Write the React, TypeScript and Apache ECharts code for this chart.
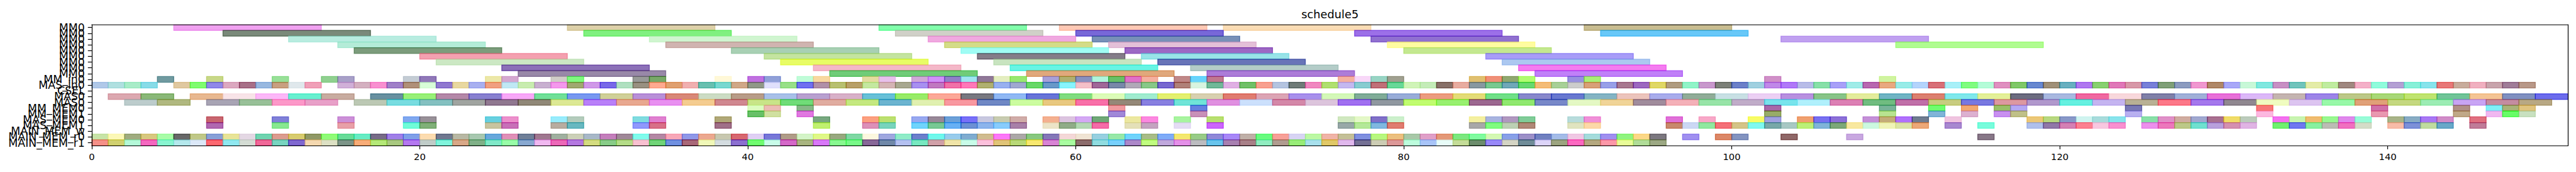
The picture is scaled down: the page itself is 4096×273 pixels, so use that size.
import React, { useEffect, useRef } from "react";
import * as echarts from "echarts";

// ---------- data ----------
const title = "schedule5";
const rowLabels = [
  "MM0", "MM0", "MM0", "MM0", "MM0", "MM0", "MM0", "MM0", "MM0",
  "MM_in0", "MAS_in0", "CSEL", "MAS0", "MAS0", "MM_MEM0", "MM_MEM1",
  "MAS_MEM0", "MAS_MEM1", "MAIN_MEM_w", "MAIN_MEM_r0", "MAIN_MEM_r1",
];
const xMin = 0;
const xMax = 151;
const xTickStep = 20;

// each entry: [start, end, colour as seen]
const mm0_r0 = [[5,14,"#f0a0f0"],[29,38,"#ddd0a8"],[48,57,"#80ffaa"],[59,68,"#ffc8b4"],[69,78,"#fadcb4"],[91,100,"#c8bc90"]];
const mm0_r1 = [[8,17,"#7a8a7a"],[30,39,"#80f080"],[49,58,"#d0d0c8"],[60,69,"#7868d8"],[77,86,"#9c70e8"],[92,101,"#68c8f8"]];
const mm0_r2 = [[12,21,"#b8ece0"],[34,43,"#d0f5d0"],[51,60,"#f0a8e0"],[61,70,"#7890b8"],[78,87,"#9070d0"],[103,112,"#c0a0f0"]];
const mm0_r3 = [[15,24,"#b4ecd8"],[35,44,"#d0b4b0"],[52,61,"#d4dc88"],[62,71,"#e4c0d8"],[79,88,"#fffca0"],[110,119,"#b0fc90"]];
const mm0_r4 = [[16,25,"#7c9c7c"],[39,48,"#a8d0b4"],[53,62,"#a0fcf4"],[63,72,"#9c68c4"],[80,89,"#c4e890"]];
const mm0_r5 = [[20,29,"#f4a0b0"],[41,50,"#c4e4a0"],[54,63,"#847c88"],[64,73,"#98e4e8"],[85,94,"#a89cf8"]];
const mm0_r6 = [[21,30,"#cce8c4"],[42,51,"#e8fc60"],[55,64,"#c8e4c0"],[65,74,"#6874b8"],[86,95,"#acc8f0"]];
const mm0_r7 = [[25,34,"#8c70b8"],[44,53,"#f4b8c8"],[56,65,"#68f4e4"],[67,76,"#b4ccc8"],[87,96,"#f47cf0"]];
const mm0_r8 = [[26,35,"#9888a8"],[45,54,"#70cc78"],[57,66,"#e0a87c"],[68,77,"#ac7cd8"],[88,97,"#c080f8"]];

// unit-length rows: [start, colour]
const mmIn0 = [[4,"#709aa0"],[7,"#c8d888"],[11,"#98e098"],[14,"#90d090"],[15,"#a8a0c8"],[19,"#c4ccd4"],[20,"#9078b8"],[24,"#ece8a8"],[25,"#d4a8d0"],[28,"#d0ccc8"],[29,"#80f880"],[33,"#989a98"],[34,"#78a868"],[38,"#fff8d8"],[40,"#c070e0"],[41,"#90a0d8"],[43,"#c0fcd8"],[44,"#f8d8a0"],[47,"#e4dca0"],[48,"#e8c0ec"],[50,"#d0a8d8"],[51,"#d090f8"],[52,"#9080c8"],[53,"#a0e4f0"],[54,"#907898"],[55,"#e4eec0"],[56,"#98e870"],[58,"#a8a0d8"],[59,"#b0b070"],[60,"#8890c0"],[61,"#b0f4dc"],[62,"#68c068"],[63,"#e070c8"],[64,"#f4b0a0"],[66,"#c08888"],[67,"#68d4fc"],[68,"#c07890"],[76,"#f4b0a0"],[77,"#f8d8f8"],[78,"#98d4c4"],[79,"#a0a090"],[84,"#e0c070"],[85,"#f09078"],[86,"#90a870"],[87,"#b0fc70"],[90,"#9890e0"],[91,"#a8f078"],[102,"#d090c8"],[109,"#d0f4a0"]];

const masIn0 = [[0,"#b0c8e8"],[1,"#b0e0e0"],[2,"#a8ecc8"],[3,"#88dce8"],[5,"#e0c8a0"],[6,"#80fc70"],[7,"#9088e8"],[8,"#dca8c0"],[9,"#a87088"],[10,"#98b8e0"],[11,"#c8a080"],[12,"#e0e8ec"],[13,"#f0a0b8"],[15,"#d0b0d8"],[16,"#d4b0c0"],[17,"#f890d0"],[18,"#a080c8"],[19,"#b09078"],[20,"#d8fcd8"],[21,"#9078d0"],[22,"#e8d8a0"],[23,"#a8b0f0"],[24,"#f0a080"],[25,"#c0e8f4"],[26,"#c8ecb0"],[27,"#c8b0d0"],[28,"#f498ec"],[29,"#a0a870"],[30,"#d098e8"],[31,"#7868e8"],[32,"#b0e0c0"],[33,"#989080"],[34,"#ffaa90"],[35,"#e0a070"],[36,"#f0b0b0"],[37,"#68c0b0"],[38,"#78d8d0"],[39,"#d0a888"],[40,"#909888"],[41,"#e0e0fc"],[42,"#98e088"],[43,"#7070f0"],[44,"#b090a8"],[45,"#b8c070"],[46,"#b8a068"],[47,"#c4e8a0"],[48,"#d4b4b4"],[49,"#a8a890"],[50,"#a890f0"],[51,"#c078c0"],[52,"#f070a8"],[53,"#ff78b8"],[54,"#b0b070"],[55,"#98b0f0"],[56,"#a0a8d0"],[57,"#68d868"],[58,"#6898c8"],[59,"#88f4fc"],[60,"#f4c0c8"],[61,"#a06898"],[62,"#7888a8"],[63,"#b0a8b8"],[64,"#88c888"],[65,"#7868d0"],[66,"#b08078"],[67,"#d8f4e0"],[68,"#70b898"],[69,"#e0b0e4"],[70,"#70c068"],[71,"#f8a090"],[72,"#b4c4e0"],[73,"#707c78"],[74,"#f088c0"],[75,"#b0e070"],[76,"#c4b8f0"],[77,"#88ccd0"],[78,"#c07078"],[79,"#68d898"],[80,"#d0f4b8"],[81,"#c4ecb8"],[82,"#887068"],[83,"#e8aca0"],[84,"#8898a0"],[85,"#78c890"],[86,"#70a8b8"],[87,"#68d870"],[88,"#f4bc78"],[89,"#a8d098"],[90,"#cccccc"],[91,"#d8a078"],[92,"#98a0e8"],[93,"#a87890"],[94,"#9c68c0"],[95,"#e0d860"],[96,"#b09c80"],[97,"#90f4c8"],[98,"#c898cc"],[99,"#7c8078"],[100,"#6c80c8"],[101,"#a0d0e0"],[102,"#c088e8"],[103,"#b078f8"],[104,"#b8bce8"],[105,"#88e0a8"],[106,"#a8a0f8"],[107,"#a0ece8"],[108,"#b868b0"],[109,"#e8a880"],[110,"#98ece8"],[111,"#b4d4fc"],[112,"#d87078"],[113,"#a8f0f8"],[114,"#80fc80"],[115,"#b4fcd8"],[116,"#e090c0"],[117,"#80c868"],[118,"#6888d0"],[119,"#a09078"],[120,"#68b0c0"],[121,"#b078f0"],[122,"#88d070"],[123,"#e078b8"],[124,"#d898a8"],[125,"#7880d8"],[126,"#80a078"],[127,"#8c9cc0"],[128,"#f098d0"],[129,"#b08868"],[130,"#a8a8f8"],[131,"#c8f8d8"],[132,"#80e8e0"],[133,"#c890c4"],[134,"#70c4bc"],[135,"#e4eca8"],[136,"#c0eca0"],[137,"#a08880"],[138,"#f4b0c8"],[139,"#90fcdc"],[140,"#b4a0d4"],[141,"#88f0d8"],[142,"#88e4ec"],[143,"#e87878"],[144,"#c8ac9c"],[145,"#f0b0c0"],[146,"#c8a4ac"],[147,"#a07c98"],[148,"#b89888"]];

// two-unit rows: [start, colour]
const mas0a = [[1,"#dca8b0"],[3,"#8ab878"],[6,"#e8b890"],[8,"#f8e4e8"],[10,"#fcb8f8"],[12,"#68f0d0"],[14,"#c8aca0"],[17,"#6890a0"],[19,"#98f078"],[21,"#b488a8"],[23,"#8880d0"],[25,"#f8a8f8"],[27,"#70e098"],[29,"#7898f0"],[31,"#d0d098"],[33,"#b890d8"],[35,"#d88878"],[37,"#ccdcc4"],[39,"#b89c88"],[41,"#a8c0e8"],[43,"#b8a0d0"],[45,"#d8b0c8"],[47,"#68c0d8"],[49,"#98ec68"],[51,"#fca898"],[53,"#787880"],[55,"#90b8f4"],[57,"#6874d8"],[59,"#80dc80"],[61,"#dcfcb8"],[63,"#a0ecd0"],[65,"#e4f070"],[67,"#d8d0b0"],[69,"#e07c70"],[71,"#dca4b4"],[73,"#a890ec"],[75,"#d4f8b8"],[77,"#80ac98"],[79,"#98acd8"],[81,"#ec9c80"],[83,"#e4dc78"],[85,"#70e088"],[87,"#8888cc"],[89,"#6878d0"],[91,"#84b4c4"],[93,"#ecc4bc"],[95,"#a8acec"],[97,"#90ac98"],[99,"#c8e0e4"],[101,"#ecd0f4"],[103,"#b890e0"],[105,"#88c488"],[107,"#e4ec9c"],[109,"#70b4c4"],[111,"#dc8070"],[113,"#80e8ec"],[115,"#e4f098"],[117,"#6c6c80"],[119,"#a8b8e0"],[121,"#f068a0"],[123,"#f8d8dc"],[125,"#8080a8"],[127,"#a0b0d8"],[129,"#e870d8"],[131,"#dcb8f8"],[133,"#c4b4b0"],[135,"#9c84e8"],[137,"#bcc888"],[139,"#a8d878"],[141,"#c0e470"],[143,"#70c498"],[145,"#f4c494"],[147,"#8090c0"],[149,"#6c6cec"]];
const mas0b = [[2,"#bccccc"],[4,"#b0b880"],[7,"#a8a4b4"],[9,"#98c098"],[11,"#fc98c8"],[13,"#e8a0c8"],[16,"#bcc8b4"],[18,"#78dce0"],[20,"#84c0c0"],[22,"#a0a4a0"],[24,"#907890"],[26,"#908878"],[28,"#dce894"],[30,"#b880f8"],[32,"#e8a890"],[34,"#e890f0"],[36,"#f4cc90"],[38,"#d08890"],[40,"#c8e488"],[42,"#70dc78"],[44,"#e0aca0"],[46,"#c4e880"],[48,"#6cb4d0"],[50,"#e0f0b0"],[52,"#f898a0"],[54,"#7088c4"],[56,"#ccfca0"],[58,"#e8c880"],[60,"#f870a8"],[62,"#948878"],[64,"#8880e0"],[66,"#70e4d8"],[68,"#e090e0"],[70,"#cce0fc"],[72,"#d488a8"],[74,"#dcc4dc"],[76,"#a070f0"],[78,"#9098a0"],[80,"#c0fc70"],[82,"#98f070"],[84,"#9c6890"],[86,"#90e870"],[88,"#7888c8"],[90,"#e4f8c4"],[92,"#f0d498"],[94,"#a08c9c"],[96,"#f4b0b8"],[98,"#98e4a8"],[100,"#c0acc8"],[102,"#78e4ec"],[104,"#b0f0fc"],[106,"#dc80b4"],[108,"#70bc80"],[110,"#c070a8"],[112,"#c8cc80"],[114,"#7878e0"],[116,"#dc98a0"],[118,"#b098cc"],[120,"#58f0e0"],[122,"#c4b4f0"],[124,"#b8b094"],[126,"#fc7888"],[128,"#a478ec"],[130,"#908890"],[132,"#f0fcc0"],[134,"#dcc4f0"],[136,"#98f8a8"],[138,"#e0a078"],[140,"#c4d880"],[142,"#9cecb4"],[144,"#c8a4f4"],[146,"#c48ca0"],[148,"#b8a884"]];

const mmMem0 = [[40,"#dcfcc0"],[41,"#ecbcb4"],[43,"#88b888"],[62,"#f09aa0"],[67,"#6080e0"],[102,"#a868a8"],[109,"#78b498"],[112,"#70fc70"],[114,"#f4a870"],[116,"#98c068"],[117,"#b4a8f4"],[124,"#7878b4"],[132,"#f87878"],[139,"#d070a8"],[144,"#b09088"],[146,"#80f0f8"],[147,"#a8b478"],[148,"#e0c480"]];
const mmMem1 = [[40,"#68c068"],[41,"#d0e0a0"],[43,"#e078e0"],[62,"#a088d8"],[67,"#c890b8"],[102,"#98ac68"],[109,"#b8e490"],[112,"#80b4d8"],[114,"#dcb0d0"],[116,"#c890f0"],[117,"#c0c088"],[124,"#b8b0f0"],[132,"#fcb8e0"],[139,"#e898b0"],[144,"#c0a888"],[146,"#f0b8f0"],[147,"#68fc68"],[148,"#c8e0c0"]];

const masMem0 = [[7,"#c86070"],[11,"#8080d8"],[15,"#cc90d8"],[19,"#80a8f0"],[20,"#989098"],[24,"#68d0e0"],[25,"#ec90cc"],[28,"#98ecfc"],[29,"#b4ccbc"],[33,"#80dce0"],[34,"#e080d0"],[38,"#b0a878"],[44,"#78a880"],[47,"#fca080"],[48,"#bce070"],[50,"#98a8f0"],[51,"#988898"],[52,"#6ca0d8"],[53,"#7870f8"],[54,"#c8c8e0"],[55,"#c8ccb0"],[56,"#d0aca8"],[58,"#f4b090"],[59,"#dcc4e0"],[60,"#d4a8f4"],[61,"#70a878"],[63,"#ece8a0"],[64,"#fc88e0"],[66,"#a8f4a0"],[68,"#b8e070"],[76,"#d0e8c0"],[77,"#e4f8c8"],[78,"#8070c8"],[79,"#ccf0cc"],[84,"#f4f0a0"],[85,"#a8b4e0"],[86,"#b098c0"],[87,"#80cc98"],[90,"#b8dcdc"],[91,"#f090d8"],[96,"#e070d8"],[98,"#f8a8c8"],[101,"#f8fc58"],[102,"#a0a0e0"],[104,"#f0a070"],[105,"#7870f0"],[106,"#8c70d8"],[108,"#c490d8"],[109,"#c4ac78"],[110,"#b070fc"],[111,"#707c90"],[113,"#f0c4e0"],[118,"#ecc878"],[119,"#b8d880"],[120,"#8898c8"],[121,"#d0f4f0"],[122,"#a8dcdc"],[123,"#88e4ec"],[125,"#88e0a8"],[126,"#e090c8"],[127,"#d0aca0"],[128,"#a0a8d0"],[129,"#a87090"],[130,"#f0dc68"],[131,"#bcccbc"],[133,"#f470f0"],[134,"#c8f4b0"],[135,"#f0bc70"],[136,"#98f890"],[137,"#e088ec"],[138,"#98fcd8"],[140,"#a8b488"],[141,"#88acc4"],[142,"#a878f4"],[143,"#d08cc8"],[145,"#e07080"]];
const masMem1 = [[7,"#b068b0"],[11,"#88e890"],[15,"#e8a0a8"],[19,"#70fcd8"],[20,"#80b078"],[24,"#c8c4a0"],[25,"#c870b8"],[28,"#b8aca0"],[29,"#68b8c0"],[33,"#9098fc"],[34,"#d87088"],[38,"#a07088"],[44,"#c0f070"],[47,"#dc90b8"],[48,"#78d4bc"],[50,"#70d4fc"],[51,"#78c894"],[52,"#68b0f4"],[53,"#6c90d4"],[54,"#8cb4ec"],[55,"#88ccfc"],[56,"#a880a8"],[58,"#ece4c8"],[59,"#90ac88"],[60,"#b4d8b4"],[61,"#f46ca8"],[63,"#e4e0b8"],[64,"#c4a4c0"],[66,"#e4dcf4"],[68,"#cc60fc"],[76,"#98a8a8"],[77,"#b4e898"],[78,"#80b8e0"],[79,"#e07c70"],[84,"#a8a8a8"],[85,"#80fc80"],[86,"#bcd0b4"],[87,"#b08878"],[90,"#e0e4c0"],[91,"#fcd8a8"],[96,"#c8886c"],[97,"#ccd8f4"],[98,"#90e8a0"],[99,"#f47078"],[100,"#d4c488"],[101,"#80f8f0"],[102,"#78a8a8"],[103,"#a8c8c4"],[104,"#bcf078"],[105,"#80b4d8"],[106,"#7ca878"],[107,"#f8e8a0"],[108,"#ccf8e0"],[109,"#f0f4b8"],[110,"#dce4a8"],[111,"#eca878"],[113,"#a888d0"],[115,"#78fcdc"],[118,"#b0c0ec"],[119,"#9078a8"],[120,"#d480b4"],[121,"#fc8090"],[122,"#f8c8e0"],[123,"#f890d0"],[125,"#ec90ec"],[126,"#ec78bc"],[127,"#bcc888"],[128,"#70e0d0"],[129,"#b8a0dc"],[130,"#d490b0"],[131,"#e0b4e4"],[133,"#70f070"],[134,"#7078f0"],[135,"#88f0a0"],[136,"#bcbcb4"],[137,"#f070c0"],[138,"#d4dcc8"],[140,"#f8bca8"],[141,"#7c90d8"],[142,"#c0dca0"],[143,"#68a8c8"],[145,"#c07c98"]];

const mainMemW: [number, string][] = [];
const mainMemR0 = [[0,"#c8e4a8"],[1,"#fcf8b8"],[2,"#a0ac80"],[3,"#d8c880"],[4,"#a8fca8"],[5,"#686868"],[6,"#c0c888"],[7,"#88a0d8"],[8,"#e8e498"],[9,"#e4d8e4"],[10,"#70d4b0"],[11,"#dc9c90"],[12,"#d8cc70"],[13,"#909860"],[14,"#90fc78"],[15,"#68dc98"],[16,"#68ecc4"],[17,"#786c88"],[18,"#a080e8"],[19,"#80a0e8"],[20,"#fcdcb0"],[21,"#707890"],[22,"#b8b8a4"],[23,"#a8c8b0"],[24,"#68a8dc"],[25,"#e090b8"],[26,"#708098"],[27,"#a07890"],[28,"#a0b0a0"],[29,"#ccd0b8"],[30,"#a8b8c8"],[31,"#c480bc"],[32,"#a08898"],[33,"#80fcec"],[34,"#b488a4"],[35,"#f8a8b8"],[36,"#9098e8"],[37,"#eca890"],[38,"#c8c8b0"],[39,"#d86870"],[40,"#e0d0f4"],[41,"#7878d8"],[42,"#b09c88"],[43,"#d4f4c8"],[44,"#e0f888"],[45,"#98a880"],[46,"#80d8a4"],[47,"#fcf8e0"],[48,"#a0a8e0"],[49,"#90ecc8"],[50,"#6c80cc"],[51,"#70f8ec"],[52,"#98ccec"],[53,"#80acd0"],[54,"#d0bc90"],[55,"#fc78f8"],[56,"#aca8a8"],[57,"#88c880"],[58,"#8478b8"],[59,"#f4d8d8"],[60,"#f0e4d4"],[61,"#98d0e0"],[62,"#98e8a8"],[63,"#70d4fc"],[64,"#a8bc88"],[65,"#80acf8"],[66,"#f4e870"],[67,"#98cc88"],[68,"#9088d8"],[69,"#a888f8"],[70,"#c0b0a8"],[71,"#68fc80"],[72,"#f8a098"],[73,"#d8d4f4"],[74,"#bcf8a4"],[75,"#f0b4a8"],[76,"#c4c098"],[77,"#8090e0"],[78,"#b8f880"],[79,"#ecc080"],[80,"#a8c8a8"],[81,"#e0a0c8"],[82,"#e49878"],[83,"#7ce880"],[84,"#80fca0"],[85,"#d4f8b4"],[86,"#88a0e8"],[87,"#9c90c8"],[88,"#7080c0"],[89,"#a4bce8"],[90,"#f0c8e4"],[91,"#a4dcdc"],[92,"#a090f0"],[93,"#90f480"],[94,"#fcd888"],[95,"#7c7880"],[97,"#a090f0"],[99,"#dc8868"],[100,"#8494c0"],[103,"#906868"],[107,"#c8a8e0"],[115,"#887888"]];
const mainMemR1 = [[0,"#f49088"],[1,"#d0d070"],[2,"#b4f8d8"],[3,"#f468c0"],[4,"#88f4d0"],[5,"#b4e8ec"],[6,"#dce8f8"],[7,"#fc6870"],[8,"#90e8f0"],[9,"#d4dcd4"],[10,"#f06898"],[11,"#78d4c0"],[12,"#8068d0"],[13,"#f4d8b0"],[14,"#dce0c4"],[15,"#7c9488"],[16,"#f8ac78"],[17,"#b4e878"],[18,"#a8c880"],[19,"#b478f0"],[20,"#c0ccc8"],[21,"#80f4dc"],[22,"#d8a888"],[23,"#80b088"],[24,"#80e8c8"],[25,"#98fca8"],[26,"#88a8d0"],[27,"#f0b8f0"],[28,"#ec68b8"],[29,"#b478e0"],[30,"#d4dc80"],[31,"#88cc88"],[32,"#b4dc88"],[33,"#f8c0d0"],[34,"#70d478"],[35,"#7090e0"],[36,"#a86878"],[37,"#f0f8b8"],[38,"#d4dce0"],[39,"#8c70d0"],[40,"#70fc70"],[41,"#c8fce8"],[42,"#d468c8"],[43,"#a8b480"],[44,"#d878f8"],[45,"#88f890"],[46,"#78f888"],[47,"#886898"],[48,"#7088a8"],[49,"#b4c0f0"],[50,"#78e8c0"],[51,"#d0a0a8"],[52,"#f0e4a8"],[53,"#c8fce8"],[54,"#fcc0dc"],[55,"#e0c478"],[56,"#b8d878"],[57,"#f8e870"],[58,"#d884d4"],[59,"#a8fca0"],[60,"#8c6c6c"],[61,"#90dce0"],[62,"#78d0fc"],[63,"#ac88c8"],[64,"#c0fc80"],[65,"#c0a8dc"],[66,"#e490e8"],[67,"#bcbcc0"],[68,"#68c4ec"],[69,"#a880b0"],[70,"#a88088"],[71,"#90ecc0"],[72,"#b09c90"],[73,"#98ec78"],[74,"#a8e0ec"],[75,"#e0c868"],[76,"#e0b8ec"],[77,"#747094"],[78,"#ccccb4"],[79,"#dc9898"],[80,"#bcfcdc"],[81,"#a8c4f8"],[82,"#e8fcf8"],[83,"#c4dc98"],[84,"#6c8c6c"],[85,"#9888f8"],[86,"#d4d4c4"],[87,"#708c98"],[88,"#dcd4f8"],[89,"#9ca480"],[90,"#fc68c0"],[91,"#b4a880"],[92,"#fc98a8"],[93,"#e8fc98"],[94,"#b0dc98"],[95,"#9ca884"]];

// ---------- build bar list ----------
type Bar = { s: number; e: number; row: number; color: string };
const bars: Bar[] = [];
const spanRows = [mm0_r0, mm0_r1, mm0_r2, mm0_r3, mm0_r4, mm0_r5, mm0_r6, mm0_r7, mm0_r8] as any[];
spanRows.forEach((list, row) => list.forEach((b: any) => bars.push({ s: b[0], e: b[1], row, color: b[2] })));
const unitRows: [number, any[], number][] = [
  [9, mmIn0, 1], [10, masIn0, 1], [12, mas0a, 2], [13, mas0b, 2],
  [14, mmMem0, 1], [15, mmMem1, 1], [16, masMem0, 1], [17, masMem1, 1],
  [18, mainMemW, 1], [19, mainMemR0, 1], [20, mainMemR1, 1],
];
unitRows.forEach(([row, list, len]) => list.forEach((b: any) => bars.push({ s: b[0], e: b[0] + len, row, color: b[1] })));

const ALPHA = 0.6;
function baseRgba(hex: string) {
  const v = [1, 3, 5].map((i) => parseInt(hex.slice(i, i + 2), 16));
  const c = v.map((p) => Math.max(0, Math.min(255, Math.round((p - 255 * (1 - ALPHA)) / ALPHA))));
  return `rgba(${c[0]},${c[1]},${c[2]},${ALPHA})`;
}

const FONT = "DejaVu Sans";

export default function App() {
  const ref = useRef<HTMLDivElement>(null);
  useEffect(() => {
    const chart = echarts.init(ref.current!, null, { renderer: "svg" });
    const gridLeft = 145.9, gridTop = 39.1, gridW = 3937.6, gridH = 192.0;
    const axisLineStyle = { color: "#000", width: 1.2 };
    chart.setOption({
      animation: false,
      backgroundColor: "#fff",
      grid: { left: gridLeft, top: gridTop, width: gridW, height: gridH, containLabel: false },
      graphic: [
        {
          type: "text",
          x: gridLeft + gridW / 2,
          y: 22,
          style: { text: title, fontFamily: FONT, fontSize: 17.8, fill: "#000", textAlign: "center", textVerticalAlign: "middle" },
        },
      ],
      xAxis: [
        {
          type: "value", min: xMin, max: xMax, interval: xTickStep, position: "bottom", z: 10,
          axisLine: { show: true, onZero: false, lineStyle: axisLineStyle },
          axisTick: { show: true, length: 5.8, lineStyle: { color: "#000", width: 1.2 } },
          axisLabel: { fontFamily: FONT, fontSize: 14.8, color: "#000", margin: 10, showMaxLabel: false },
          splitLine: { show: false },
        },
        {
          type: "value", min: xMin, max: xMax, position: "top", z: 10,
          axisLine: { show: true, onZero: false, lineStyle: axisLineStyle },
          axisTick: { show: false }, axisLabel: { show: false }, splitLine: { show: false },
        },
      ],
      yAxis: [
        {
          type: "category", data: rowLabels, inverse: true, position: "left", z: 10,
          axisLine: { show: true, onZero: false, lineStyle: axisLineStyle },
          axisTick: { show: true, alignWithLabel: true, interval: 0, length: 6.2, lineStyle: { color: "#000", width: 1.2 } },
          axisLabel: { interval: 0, fontFamily: FONT, fontSize: 17.4, color: "#000", margin: 11 },
          splitLine: { show: false },
        },
        {
          type: "category", data: rowLabels, inverse: true, position: "right", z: 10,
          axisLine: { show: true, onZero: false, lineStyle: axisLineStyle },
          axisTick: { show: false }, axisLabel: { show: false }, splitLine: { show: false },
        },
      ],
      series: [
        {
          type: "custom",
          xAxisIndex: 0,
          yAxisIndex: 0,
          encode: { x: [0, 1], y: 2 },
          data: bars.map((b) => [b.s, b.e, b.row]),
          renderItem: (params: any, api: any) => {
            const b = bars[params.dataIndex];
            const p0 = api.coord([api.value(0), api.value(2)]);
            const p1 = api.coord([api.value(1), api.value(2)]);
            const h = api.size([0, 1])[1];
            const col = baseRgba(b.color);
            return {
              type: "rect",
              shape: { x: p0[0], y: p0[1] - h / 2, width: p1[0] - p0[0], height: h },
              style: { fill: col, stroke: col, lineWidth: 1.3 },
            };
          },
        },
      ],
    });
    return () => chart.dispose();
  }, []);
  return <div ref={ref} style={{ position: "fixed", left: 0, top: 0, width: 4096, height: 273 }} />;
}
